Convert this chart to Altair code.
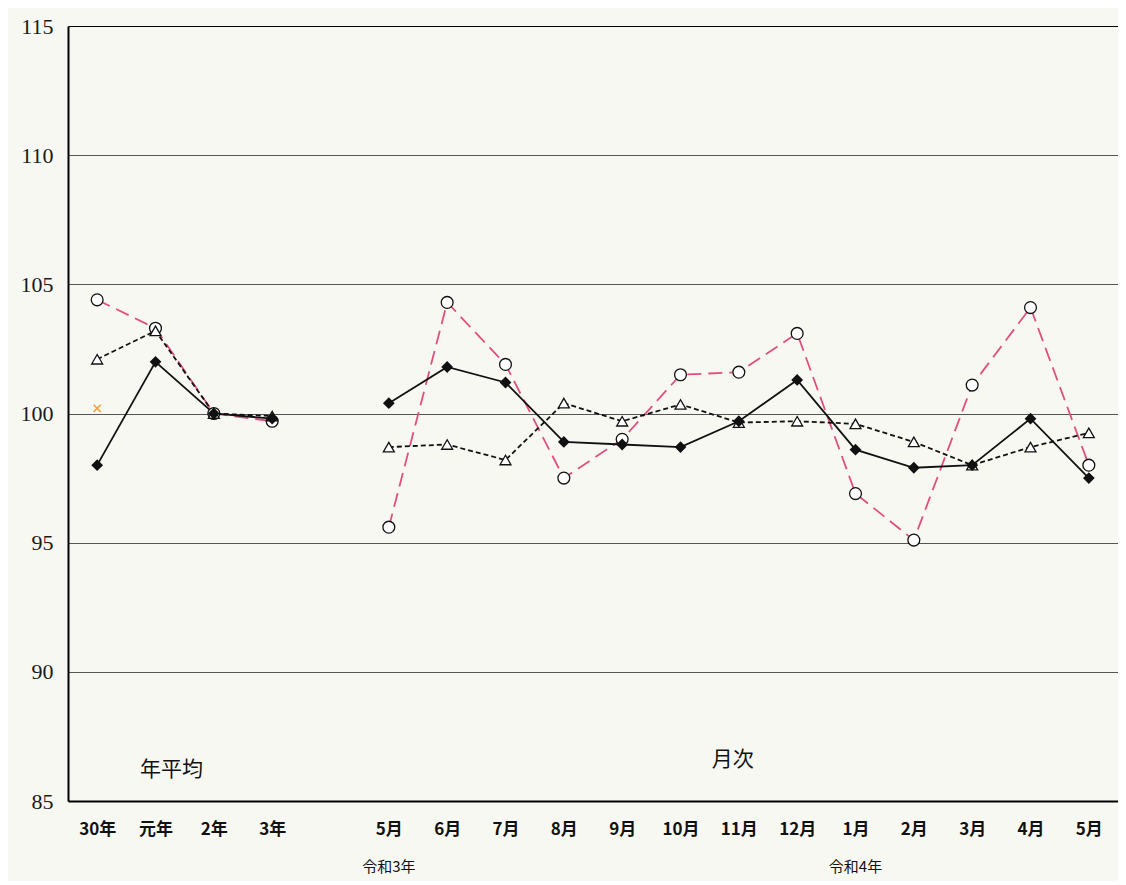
import altair as alt
import pandas as pd

# ---- data ----
year_cats = ["30年", "元年", "2年", "3年"]
gap_cat = ["\u200b"]
month_cats = ["5月", "6月", "7月", "8月", "9月", "10月", "11月", "12月",
              "1月", "2月", "3月", "4月", "5月\u200b"]

diamond_year = [98.0, 102.0, 100.0, 99.8]
diamond_month = [100.4, 101.8, 101.2, 98.9, 98.8, 98.7, 99.7, 101.3, 98.6, 97.9, 98.0, 99.8, 97.5]

triangle_year = [102.1, 103.2, 100.0, 99.9]
triangle_month = [98.7, 98.8, 98.2, 100.4, 99.7, 100.35, 99.65, 99.7, 99.6, 98.9, 98.0, 98.7, 99.25]

circle_year = [104.4, 103.3, 100.0, 99.7]
circle_month = [95.6, 104.3, 101.9, 97.5, 99.0, 101.5, 101.6, 103.1, 96.9, 95.1, 101.1, 104.1, 98.0]

cross_cat = ["30年"]
cross_val = [100.2]

y_ticks = [85, 90, 95, 100, 105, 110, 115]

annot_text = ["年平均", "月次"]
annot_cat = ["元年", "11月"]
annot_val = [86.2, 86.6]
annot_dx = [16, -6]

era_text = ["令和3年", "令和4年"]
era_cat = ["5月", "1月"]

all_cats = year_cats + gap_cat + month_cats
label_cats = year_cats + month_cats


def frame(year_vals, month_vals):
    rows = []
    for c, v in zip(year_cats, year_vals):
        rows.append({"cat": c, "val": v, "seg": "year"})
    for c, v in zip(month_cats, month_vals):
        rows.append({"cat": c, "val": v, "seg": "month"})
    return pd.DataFrame(rows)


df_d = frame(diamond_year, diamond_month)
df_t = frame(triangle_year, triangle_month)
df_c = frame(circle_year, circle_month)
df_x = pd.DataFrame({"cat": cross_cat, "val": cross_val})
df_e = pd.DataFrame({"cat": era_cat, "text": era_text})

W, H = 1050, 775
BG = "#f8f8f3"

xscale = alt.Scale(domain=all_cats, paddingInner=0, paddingOuter=0)
yscale = alt.Scale(domain=[85, 115], nice=False, zero=False)

x_enc = alt.X("cat:N", scale=xscale, sort=all_cats,
              axis=alt.Axis(title=None, labelAngle=0, ticks=False, values=label_cats,
                            domainColor="#000", domainWidth=2,
                            labelFont="Noto Sans CJK JP", labelFontWeight="bold",
                            labelFontSize=17, labelColor="#111", labelPadding=20,
                            grid=False))
y_enc = alt.Y("val:Q", scale=yscale,
              axis=alt.Axis(title=None, values=y_ticks, ticks=False,
                            domainColor="#000", domainWidth=2,
                            labelFont="Liberation Serif", labelFontSize=22,
                            labelColor="#1a1a1a", labelPadding=15,
                            grid=True, gridWidth=1.2,
                            gridColor={"condition": {"test": "datum.value === 115", "value": "#000"},
                                       "value": "#555"}))

x_plain = alt.X("cat:N", scale=xscale, sort=all_cats)
y_plain = alt.Y("val:Q", scale=yscale)

line_c = alt.Chart(df_c).mark_line(color="#e0507f", strokeWidth=1.8, strokeDash=[14, 7]).encode(
    x=x_enc, y=y_enc, detail="seg:N")
line_t = alt.Chart(df_t).mark_line(color="#111", strokeWidth=1.8, strokeDash=[5, 3]).encode(
    x=x_plain, y=y_plain, detail="seg:N")
line_d = alt.Chart(df_d).mark_line(color="#111", strokeWidth=1.8).encode(
    x=x_plain, y=y_plain, detail="seg:N")

pts_c = alt.Chart(df_c).mark_point(shape="circle", size=140, filled=True, fill="white",
                                   stroke="#111", strokeWidth=1.3, opacity=1).encode(
    x=x_plain, y=y_plain)
pts_t = alt.Chart(df_t).mark_point(shape="triangle-up", size=120, filled=True, fill="white",
                                   stroke="#111", strokeWidth=1.3, opacity=1).encode(
    x=x_plain, y=y_plain)
pts_d = alt.Chart(df_d).mark_point(shape="diamond", size=80, filled=True, fill="#111",
                                   stroke="#111", opacity=1).encode(
    x=x_plain, y=y_plain)
pts_x = alt.Chart(df_x).mark_point(shape="M-1,-1L1,1M-1,1L1,-1", size=50, color="#f0a030",
                                   strokeWidth=1.5, opacity=1).encode(
    x=x_plain, y=y_plain)

annots = []
for t, c, v, dx in zip(annot_text, annot_cat, annot_val, annot_dx):
    dfa = pd.DataFrame({"cat": [c], "val": [v], "text": [t]})
    annots.append(alt.Chart(dfa).mark_text(font="Noto Sans CJK JP", fontSize=21, color="#111",
                                           dx=dx, align="center", baseline="middle").encode(
        x=x_plain, y=y_plain, text="text:N"))

era = alt.Chart(df_e).mark_text(font="Noto Sans CJK JP", fontSize=15, color="#111",
                                align="center", baseline="middle").encode(
    x=x_plain, y=alt.value(H + 66), text="text:N")

chart = alt.layer(line_c, line_t, line_d, pts_c, pts_t, pts_d, pts_x, *annots, era).properties(
    width=W, height=H,
    background=BG,
    padding={"left": 60, "top": 18, "right": 0, "bottom": 80},
    autosize=alt.AutoSizeParams(type="none"),
).configure_view(stroke=None, fill=BG)

chart.save("out.html", embed_options={"renderer": "svg", "actions": False})
